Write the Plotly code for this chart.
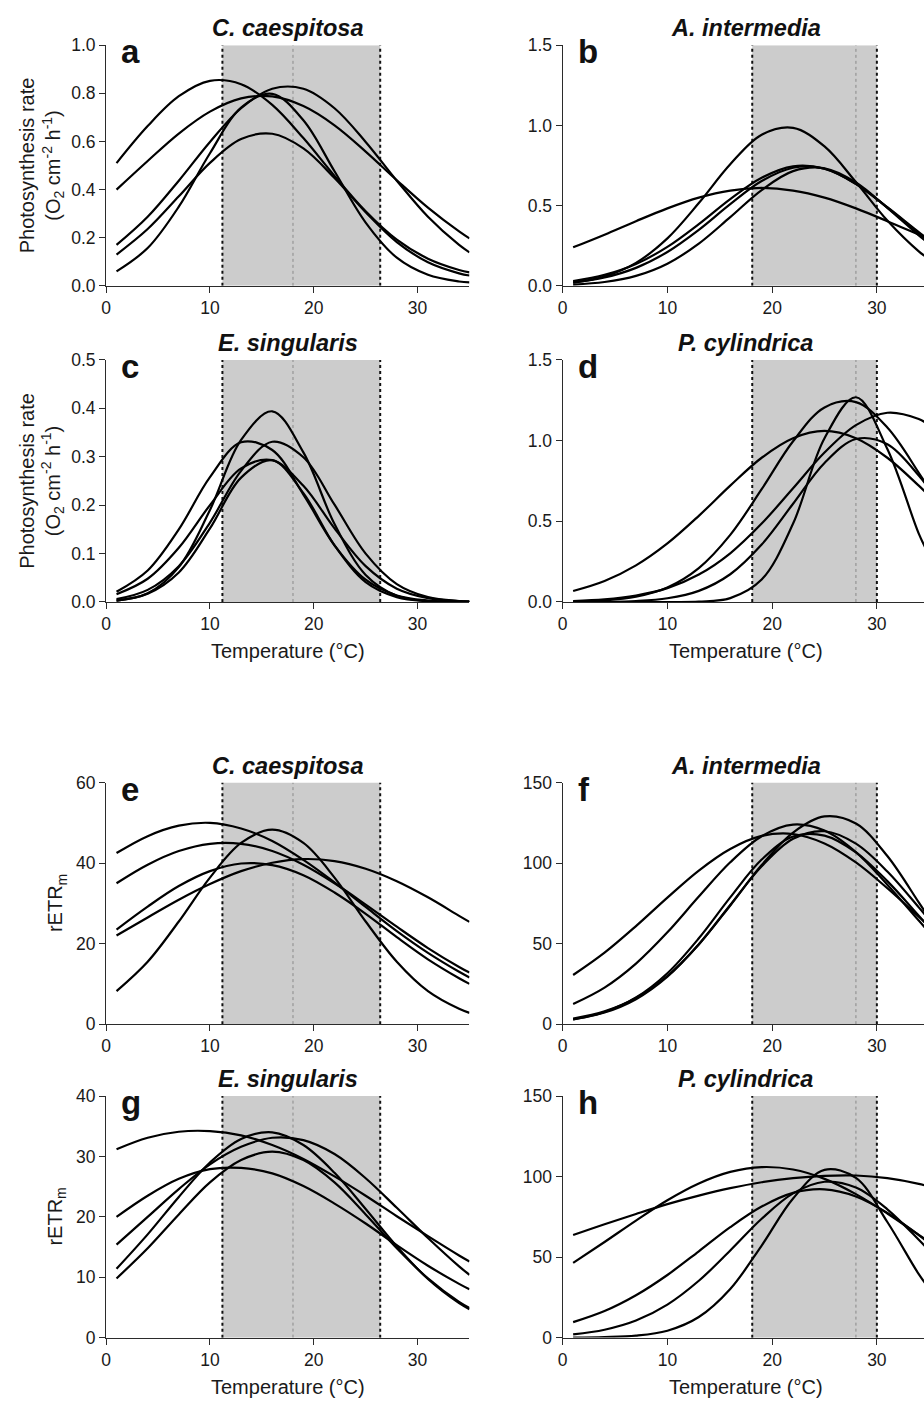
import plotly.graph_objects as go

W, H = 924, 1412

# ---------------- data ----------------
temperature = [1, 4, 7, 10, 13, 16, 19, 22, 25, 28, 31, 34, 35]

# (a) C. caespitosa - photosynthesis
a1 = [0.510, 0.664, 0.788, 0.852, 0.838, 0.752, 0.614, 0.457, 0.310, 0.192, 0.113, 0.066, 0.056]
a2 = [0.400, 0.519, 0.633, 0.724, 0.779, 0.787, 0.747, 0.667, 0.558, 0.439, 0.325, 0.226, 0.197]
a3 = [0.170, 0.287, 0.437, 0.598, 0.738, 0.819, 0.819, 0.738, 0.598, 0.437, 0.287, 0.170, 0.139]
a4 = [0.130, 0.236, 0.372, 0.511, 0.610, 0.632, 0.571, 0.448, 0.306, 0.182, 0.098, 0.052, 0.043]
a5 = [0.060, 0.157, 0.329, 0.551, 0.741, 0.798, 0.688, 0.476, 0.263, 0.117, 0.046, 0.018, 0.014]

# (b) A. intermedia - photosynthesis
b1 = [0.240, 0.319, 0.403, 0.483, 0.550, 0.594, 0.610, 0.594, 0.550, 0.483, 0.403, 0.319, 0.292]
b2 = [0.020, 0.058, 0.143, 0.296, 0.516, 0.758, 0.942, 0.985, 0.869, 0.647, 0.407, 0.215, 0.167]
b3 = [0.030, 0.068, 0.136, 0.243, 0.385, 0.541, 0.674, 0.745, 0.730, 0.635, 0.490, 0.335, 0.287]
b4 = [0.008, 0.024, 0.062, 0.138, 0.263, 0.428, 0.597, 0.715, 0.733, 0.645, 0.486, 0.315, 0.263]
b5 = [0.021, 0.052, 0.112, 0.211, 0.349, 0.509, 0.653, 0.736, 0.730, 0.636, 0.488, 0.329, 0.280]

# (c) E. singularis - photosynthesis
c1 = [0.003, 0.018, 0.072, 0.190, 0.335, 0.394, 0.309, 0.161, 0.056, 0.013, 0.002, 0.0002, 0.0001]
c2 = [0.021, 0.065, 0.150, 0.258, 0.330, 0.314, 0.222, 0.117, 0.046, 0.0135, 0.003, 0.0005, 0.0002]
c3 = [0.006, 0.025, 0.074, 0.164, 0.271, 0.331, 0.299, 0.201, 0.100, 0.037, 0.010, 0.002, 0.001]
c4 = [0.016, 0.048, 0.112, 0.200, 0.276, 0.293, 0.240, 0.152, 0.074, 0.0275, 0.008, 0.0018, 0.001]
c5 = [0.003, 0.017, 0.061, 0.152, 0.257, 0.293, 0.225, 0.117, 0.041, 0.010, 0.0016, 0.0002, 0.0001]

# (d) P. cylindrica - photosynthesis
d1 = [0.068, 0.130, 0.227, 0.363, 0.534, 0.721, 0.894, 1.015, 1.060, 1.015, 0.894, 0.721, 0.658]
d2 = [0.003, 0.010, 0.033, 0.090, 0.210, 0.416, 0.699, 0.996, 1.206, 1.239, 1.081, 0.801, 0.699]
d3 = [0.000, 0.000, 0.000, 0.0001, 0.0024, 0.024, 0.139, 0.486, 1.015, 1.269, 0.948, 0.424, 0.289]
d4 = [0.006, 0.016, 0.040, 0.086, 0.170, 0.302, 0.486, 0.705, 0.926, 1.096, 1.173, 1.134, 1.096]
d5 = [0.000, 0.001, 0.006, 0.023, 0.069, 0.172, 0.356, 0.609, 0.862, 1.010, 0.978, 0.784, 0.699]

# (e) C. caespitosa - rETRm
e1 = [42.5, 46.7, 49.3, 50.0, 48.6, 45.5, 40.8, 35.2, 29.1, 23.1, 17.7, 13.0, 11.6]
e2 = [35.0, 39.6, 43.0, 44.8, 44.8, 43.0, 39.6, 35.0, 29.7, 24.2, 18.9, 14.2, 12.8]
e3 = [23.5, 29.2, 34.3, 38.0, 39.9, 39.5, 37.0, 32.7, 27.4, 21.6, 16.1, 11.4, 10.0]
e4 = [22.0, 26.5, 30.9, 34.8, 38.0, 40.1, 41.0, 40.5, 38.6, 35.5, 31.5, 26.9, 25.4]
e5 = [8.2, 15.5, 25.5, 36.4, 45.0, 48.3, 45.0, 36.4, 25.5, 15.5, 8.2, 3.8, 2.8]

# (f) A. intermedia - rETRm
f1 = [30.5, 44.4, 60.9, 78.6, 95.4, 108.8, 116.9, 118.1, 112.2, 100.4, 84.4, 66.7, 60.9]
f2 = [12.5, 22.7, 37.6, 57.0, 79.2, 100.5, 116.7, 123.9, 120.2, 106.8, 86.6, 64.3, 57.0]
f3 = [3.5, 8.0, 16.3, 29.9, 49.5, 73.7, 98.8, 119.0, 129.0, 124.6, 104.4, 75.6, 65.8]
f4 = [3.0, 7.2, 15.5, 29.5, 49.6, 74.0, 98.0, 115.1, 119.8, 112.1, 94.8, 72.5, 64.8]
f5 = [3.0, 7.5, 16.5, 31.6, 53.3, 78.7, 102.2, 116.5, 117.1, 106.7, 88.8, 67.3, 60.1]

# (g) E. singularis - rETRm
g1 = [31.2, 33.1, 34.1, 34.2, 33.5, 31.9, 29.6, 26.7, 23.5, 20.1, 16.8, 13.6, 12.6]
g2 = [20.0, 23.5, 26.3, 27.9, 28.1, 27.2, 25.1, 22.2, 18.9, 15.3, 11.9, 8.9, 8.0]
g3 = [15.4, 20.0, 24.6, 28.7, 31.6, 33.1, 32.7, 30.4, 26.4, 21.5, 16.5, 11.8, 10.4]
g4 = [11.4, 17.1, 23.3, 29.0, 32.9, 34.0, 31.9, 27.3, 21.3, 15.1, 9.7, 5.7, 4.7]
g5 = [9.8, 14.8, 20.4, 25.7, 29.4, 30.8, 29.4, 25.7, 20.4, 14.8, 9.8, 5.9, 4.9]

# (h) P. cylindrica - rETRm
h1 = [63.7, 70.4, 76.8, 82.9, 88.2, 92.8, 96.5, 99.1, 100.5, 100.7, 99.0, 95.5, 93.8]
h2 = [46.4, 59.4, 72.7, 85.3, 95.7, 102.9, 105.9, 104.4, 98.6, 89.1, 77.1, 63.8, 59.4]
h3 = [9.6, 16.5, 26.3, 38.9, 53.6, 68.6, 81.4, 89.9, 92.1, 87.7, 77.5, 63.7, 58.7]
h4 = [2.0, 4.9, 10.6, 20.5, 35.3, 54.1, 73.8, 89.6, 96.8, 93.2, 79.7, 60.8, 54.1]
h5 = [0.0, 0.3, 1.2, 4.3, 12.8, 30.2, 57.2, 86.4, 104.2, 99.2, 71.8, 39.4, 30.4]

# temperature ranges (shaded band and mean line) per species column
left_band = [11.2, 26.4]
left_mean = 18.0
right_band = [18.1, 30.0]
right_mean = 28.0

species = ["C. caespitosa", "A. intermedia", "E. singularis", "P. cylindrica",
           "C. caespitosa", "A. intermedia", "E. singularis", "P. cylindrica"]
letters = ["a", "b", "c", "d", "e", "f", "g", "h"]
curves = [[a1, a2, a3, a4, a5], [b1, b2, b3, b4, b5], [c1, c2, c3, c4, c5],
          [d1, d2, d3, d4, d5], [e1, e2, e3, e4, e5], [f1, f2, f3, f4, f5],
          [g1, g2, g3, g4, g5], [h1, h2, h3, h4, h5]]
y_ticks = [[0, 0.2, 0.4, 0.6, 0.8, 1.0], [0, 0.5, 1.0, 1.5], [0, 0.1, 0.2, 0.3, 0.4, 0.5],
           [0, 0.5, 1.0, 1.5], [0, 20, 40, 60], [0, 50, 100, 150],
           [0, 10, 20, 30, 40], [0, 50, 100, 150]]
y_fmt = [".1f", ".1f", ".1f", ".1f", "d", "d", "d", "d"]
x_ticks = [0, 10, 20, 30]

# ---------------- layout geometry (pixels) ----------------
col_px = [(101.7, 467.0), (560.7, 924.0)]
x_ranges = [[0, 35], [0, 34.5]]
row_px = [(35.7, 279.8), (355.0, 600.5), (783.7, 1028.7), (1101.7, 1346.7)]

FONT = "Liberation Sans, Arial, Helvetica, sans-serif"
AX = "#2b2b2b"


def px_x(p):
    return p / W


def px_y(p):
    return 1 - p / H


fig = go.Figure()
layout = dict(
    width=W, height=H, autosize=False,
    margin=dict(l=0, r=0, t=0, b=0),
    paper_bgcolor="white", plot_bgcolor="white",
    showlegend=False,
    font=dict(family=FONT, size=17, color="#1a1a1a"),
)
shapes = []
annotations = []

for i in range(8):
    row, col = i // 2, i % 2
    n = i + 1
    xa = "xaxis" if n == 1 else f"xaxis{n}"
    ya = "yaxis" if n == 1 else f"yaxis{n}"
    xr = "x" if n == 1 else f"x{n}"
    yr = "y" if n == 1 else f"y{n}"
    x0p, x1p = col_px[col]
    ytop, ybot = row_px[row]
    ymax = y_ticks[i][-1]

    layout[xa] = dict(
        domain=[px_x(x0p), px_x(x1p)], range=x_ranges[col], anchor=yr,
        showline=True, linecolor=AX, linewidth=1.3, mirror=False,
        ticks="outside", ticklen=6, tickwidth=1.3, tickcolor=AX,
        tickvals=x_ticks, showgrid=False, zeroline=False,
        tickfont=dict(size=17.5, color="#1a1a1a", family=FONT), fixedrange=True,
    )
    layout[ya] = dict(
        domain=[px_y(ybot), px_y(ytop)], range=[0, ymax], anchor=xr,
        showline=True, linecolor=AX, linewidth=1.3,
        ticks="outside", ticklen=6, tickwidth=1.3, tickcolor=AX,
        tickvals=y_ticks[i], tickformat=y_fmt[i], showgrid=False, zeroline=False,
        tickfont=dict(size=17.5, color="#1a1a1a", family=FONT), fixedrange=True,
    )

    band = left_band if col == 0 else right_band
    mean_t = left_mean if col == 0 else right_mean
    shapes.append(dict(type="rect", xref=xr, yref=yr, x0=band[0], x1=band[1], y0=0, y1=ymax,
                       fillcolor="#cccccc", line=dict(width=0), layer="below"))
    for bx in band:
        shapes.append(dict(type="line", xref=xr, yref=yr, x0=bx, x1=bx, y0=0, y1=ymax,
                           line=dict(color="#111111", width=2, dash="dot"), layer="below"))
    shapes.append(dict(type="line", xref=xr, yref=yr, x0=mean_t, x1=mean_t, y0=0, y1=ymax,
                       line=dict(color="#8a8a8a", width=1, dash="dot"), layer="below"))

    for ys in curves[i]:
        fig.add_trace(go.Scatter(x=temperature, y=ys, mode="lines", xaxis=xr, yaxis=yr,
                                 line=dict(color="black", width=2.2, shape="spline", smoothing=1.0),
                                 hoverinfo="skip", showlegend=False))

    # species title centered over full 0-35 span
    px_per_unit = (x1p - x0p) / x_ranges[col][1]
    cx = x0p + 35 * px_per_unit / 2
    annotations.append(dict(text=f"<b><i>{species[i]}</i></b>", xref="paper", yref="paper",
                            x=px_x(cx), y=px_y(ytop - 17), xanchor="center", yanchor="middle",
                            showarrow=False, font=dict(size=23.5, family=FONT, color="#111")))
    # panel letter
    annotations.append(dict(text=f"<b>{letters[i]}</b>", xref="paper", yref="paper",
                            x=px_x(x0p + 13), y=px_y(ytop - 14), xanchor="left", yanchor="top",
                            showarrow=False, font=dict(size=33, family=FONT, color="#111")))
    # x-axis title for 2nd and 4th rows
    if row in (1, 3):
        annotations.append(dict(text="Temperature (°C)", xref="paper", yref="paper",
                                x=px_x(cx), y=px_y(ybot + 50), xanchor="center", yanchor="middle",
                                showarrow=False, font=dict(size=20, family=FONT, color="#1a1a1a")))
    # y-axis titles for left column
    if col == 0:
        ymid = (ytop + ybot) / 2
        if row < 2:
            annotations.append(dict(
                text="Photosynthesis rate<br>(O<sub>2</sub> cm<sup>-2</sup> h<sup>-1</sup>)",
                xref="paper", yref="paper", x=px_x(37), y=px_y(ymid),
                xanchor="center", yanchor="middle", textangle=-90, showarrow=False,
                font=dict(size=20, family=FONT, color="#1a1a1a")))
        else:
            annotations.append(dict(
                text="rETR<sub>m</sub>", xref="paper", yref="paper", x=px_x(52), y=px_y(ymid),
                xanchor="center", yanchor="middle", textangle=-90, showarrow=False,
                font=dict(size=20, family=FONT, color="#1a1a1a")))

layout["shapes"] = shapes
layout["annotations"] = annotations
fig.update_layout(**layout)
fig.write_html("out.html")
